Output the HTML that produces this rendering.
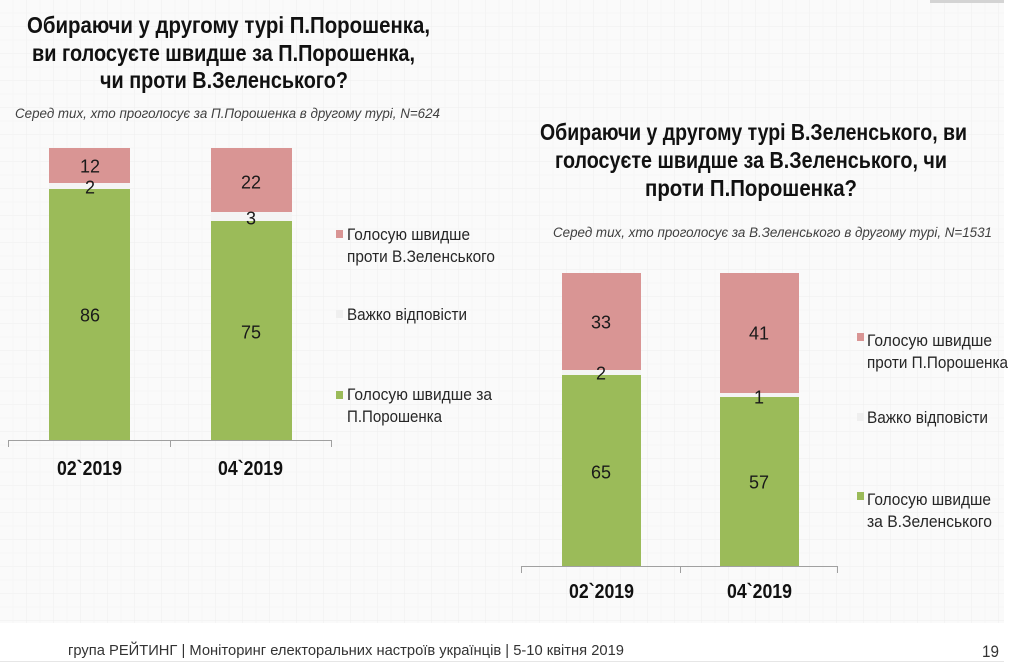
<!DOCTYPE html>
<html>
<head>
<meta charset="utf-8">
<style>
  html,body{margin:0;padding:0;background:#fff;}
  body{width:1024px;height:664px;overflow:hidden;}
  svg{display:block;}
  text{font-family:"Liberation Sans","DejaVu Sans",sans-serif;}
</style>
</head>
<body>
<svg width="1024" height="664" viewBox="0 0 1024 664" xmlns="http://www.w3.org/2000/svg" xml:space="preserve">
  <defs>
    <pattern id="grid" width="27" height="27" patternUnits="userSpaceOnUse">
      <rect width="27" height="27" fill="#fafafa"/>
      <path d="M27 0 V27 M0 27 H27" stroke="#f0f0f0" stroke-width="1.2" fill="none"/>
      <path d="M13 0 V27 M0 13 H27" stroke="#f5f5f5" stroke-width="0.8" fill="none"/>
    </pattern>
  </defs>
  <rect x="0" y="0" width="1024" height="664" fill="#ffffff"/>
  <rect x="0" y="0" width="1004" height="623" fill="url(#grid)"/>
  <rect x="930" y="0" width="74" height="3" fill="#d4d4d4"/>

  <!-- LEFT TITLE -->
  <g font-weight="bold" font-size="23.5" fill="#111">
    <text x="27" y="33" textLength="403" lengthAdjust="spacingAndGlyphs">Обираючи у другому турі П.Порошенка,</text>
    <text x="32" y="61" textLength="383" lengthAdjust="spacingAndGlyphs">ви голосуєте швидше за П.Порошенка,</text>
    <text x="100" y="88" textLength="248" lengthAdjust="spacingAndGlyphs">чи проти В.Зеленського?</text>
  </g>
  <text x="15" y="118" font-size="13.5" font-style="italic" fill="#404040" textLength="425" lengthAdjust="spacingAndGlyphs">Серед тих, хто проголосує за П.Порошенка в другому турі, N=624</text>

  <!-- LEFT BARS -->
  <rect x="49" y="148" width="81" height="35" fill="#d99594"/>
  <rect x="49" y="183" width="81" height="6" fill="#f4f4f4"/>
  <rect x="49" y="189" width="81" height="251" fill="#9bbb59"/>

  <rect x="211" y="148" width="81" height="64" fill="#d99594"/>
  <rect x="211" y="212" width="81" height="9" fill="#f4f4f4"/>
  <rect x="211" y="221" width="81" height="219" fill="#9bbb59"/>

  <g font-size="18" fill="#1a1a1a" text-anchor="middle">
    <text x="90" y="172.5">12</text>
    <text x="90" y="193.5">2</text>
    <text x="90" y="321.5">86</text>
    <text x="251" y="188.5">22</text>
    <text x="251" y="224.5">3</text>
    <text x="251" y="338.5">75</text>
  </g>

  <!-- left axis -->
  <g stroke="#a0a0a0" stroke-width="1" fill="none">
    <path d="M8 440.5 H332"/>
    <path d="M8.5 440 V447 M170.5 440 V447 M331.5 440 V447"/>
  </g>
  <g font-size="20" font-weight="bold" fill="#111">
    <text x="57" y="475" textLength="65" lengthAdjust="spacingAndGlyphs">02`2019</text>
    <text x="218" y="475" textLength="65" lengthAdjust="spacingAndGlyphs">04`2019</text>
  </g>

  <!-- left legend -->
  <rect x="336" y="230" width="7" height="8" fill="#d99594"/>
  <rect x="336" y="310" width="7" height="8" fill="#efefef"/>
  <rect x="336" y="391" width="7" height="8" fill="#9bbb59"/>
  <g font-size="17" fill="#262626">
    <text x="347" y="240" textLength="123" lengthAdjust="spacingAndGlyphs">Голосую швидше</text>
    <text x="347" y="262" textLength="148" lengthAdjust="spacingAndGlyphs">проти В.Зеленського</text>
    <text x="347" y="320" textLength="120" lengthAdjust="spacingAndGlyphs">Важко відповісти</text>
    <text x="347" y="400" textLength="145" lengthAdjust="spacingAndGlyphs">Голосую швидше за</text>
    <text x="347" y="422" textLength="95" lengthAdjust="spacingAndGlyphs">П.Порошенка</text>
  </g>

  <!-- RIGHT TITLE -->
  <g font-weight="bold" font-size="23.5" fill="#111">
    <text x="540" y="140" textLength="427" lengthAdjust="spacingAndGlyphs">Обираючи у другому турі В.Зеленського, ви</text>
    <text x="555" y="168" textLength="392" lengthAdjust="spacingAndGlyphs">голосуєте швидше за В.Зеленського, чи</text>
    <text x="645" y="196" textLength="212" lengthAdjust="spacingAndGlyphs">проти П.Порошенка?</text>
  </g>
  <text x="553" y="237" font-size="13.5" font-style="italic" fill="#404040" textLength="439" lengthAdjust="spacingAndGlyphs">Серед тих, хто проголосує за В.Зеленського в другому турі, N=1531</text>

  <!-- RIGHT BARS -->
  <rect x="562" y="273" width="79" height="97" fill="#d99594"/>
  <rect x="562" y="370" width="79" height="5" fill="#f4f4f4"/>
  <rect x="562" y="375" width="79" height="191" fill="#9bbb59"/>

  <rect x="720" y="273" width="79" height="120" fill="#d99594"/>
  <rect x="720" y="393" width="79" height="4" fill="#f4f4f4"/>
  <rect x="720" y="397" width="79" height="169" fill="#9bbb59"/>

  <g font-size="18" fill="#1a1a1a" text-anchor="middle">
    <text x="601" y="328.5">33</text>
    <text x="601" y="379.5">2</text>
    <text x="601" y="478.5">65</text>
    <text x="759" y="339.5">41</text>
    <text x="759" y="403.5">1</text>
    <text x="759" y="488.5">57</text>
  </g>

  <!-- right axis -->
  <g stroke="#a0a0a0" stroke-width="1" fill="none">
    <path d="M521 566.5 H838"/>
    <path d="M521.5 566 V573 M680.5 566 V573 M837.5 566 V573"/>
  </g>
  <g font-size="20" font-weight="bold" fill="#111">
    <text x="569" y="598" textLength="65" lengthAdjust="spacingAndGlyphs">02`2019</text>
    <text x="727" y="598" textLength="65" lengthAdjust="spacingAndGlyphs">04`2019</text>
  </g>

  <!-- right legend -->
  <rect x="857" y="333" width="7" height="8" fill="#d99594"/>
  <rect x="857" y="413" width="7" height="8" fill="#efefef"/>
  <rect x="857" y="492" width="7" height="8" fill="#9bbb59"/>
  <g font-size="17" fill="#262626">
    <text x="867" y="346" textLength="125" lengthAdjust="spacingAndGlyphs">Голосую швидше</text>
    <text x="867" y="368" textLength="141" lengthAdjust="spacingAndGlyphs">проти П.Порошенка</text>
    <text x="867" y="423" textLength="121" lengthAdjust="spacingAndGlyphs">Важко відповісти</text>
    <text x="867" y="505" textLength="124" lengthAdjust="spacingAndGlyphs">Голосую швидше</text>
    <text x="867" y="527" textLength="125" lengthAdjust="spacingAndGlyphs">за В.Зеленського</text>
  </g>

  <!-- FOOTER -->
  <text x="68" y="655" font-size="15" fill="#333" textLength="556" lengthAdjust="spacingAndGlyphs">група РЕЙТИНГ | Моніторинг електоральних настроїв українців  |  5-10 квітня  2019</text>
  <text x="982" y="657" font-size="17" fill="#333" textLength="17" lengthAdjust="spacingAndGlyphs">19</text>
  <rect x="0" y="661" width="1004" height="1" fill="#e6e6e6"/>
</svg>
</body>
</html>
